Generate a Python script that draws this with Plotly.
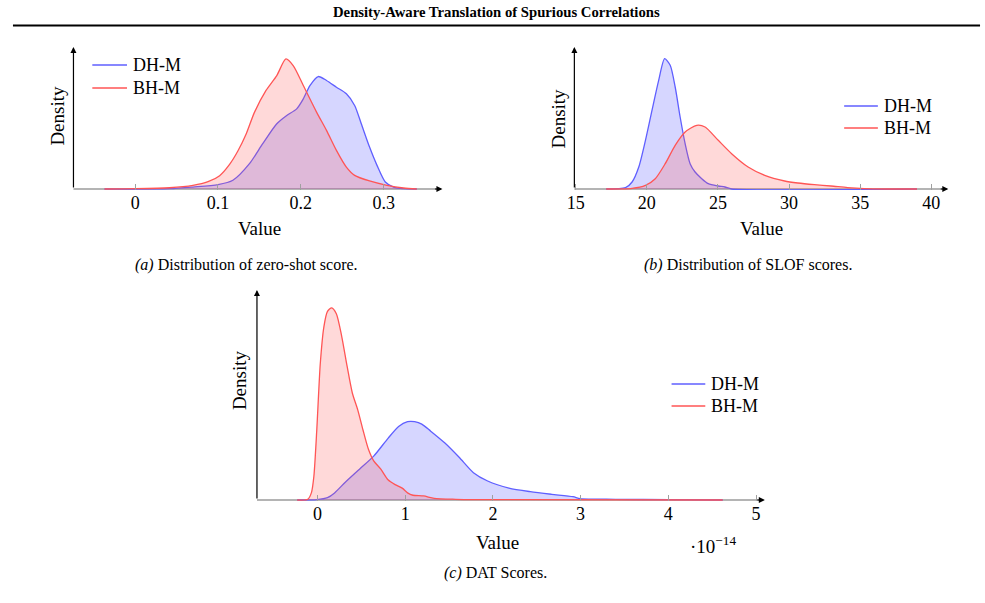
import plotly.graph_objects as go

# ---------------- data ----------------
SERIES = ["DH-M", "BH-M"]

# (a) zero-shot score
a_dh_x = [-0.037, 0.0415, 0.0698, 0.100, 0.118, 0.138, 0.154, 0.171, 0.183, 0.195, 0.203, 0.211,
          0.221, 0.231, 0.243, 0.255, 0.265, 0.273, 0.283, 0.292, 0.302, 0.312, 0.324, 0.340]
a_dh_y = [0.0, 0.02, 0.14, 0.31, 0.62, 1.80, 3.22, 4.64, 5.23, 5.70, 6.41, 7.36,
          8.00, 7.72, 7.24, 6.77, 5.94, 4.64, 2.98, 1.68, 0.50, 0.14, 0.02, 0.0]
a_bh_x = [-0.037, 0.0, 0.0415, 0.0698, 0.088, 0.102, 0.114, 0.124, 0.134, 0.144, 0.158, 0.171,
          0.182, 0.191, 0.203, 0.219, 0.231, 0.243, 0.255, 0.265, 0.283, 0.304, 0.324, 0.340]
a_bh_y = [0.0, 0.02, 0.09, 0.26, 0.52, 0.95, 1.75, 2.70, 3.91, 5.45, 7.01, 8.07,
          9.25, 8.76, 7.36, 5.47, 4.17, 2.75, 1.56, 0.97, 0.57, 0.26, 0.07, 0.0]

# (b) SLOF scores
b_dh_x = [17.14, 18.50, 18.96, 19.43, 19.90, 20.36, 20.83, 21.25, 21.64, 21.99, 22.34, 22.69,
          23.04, 23.39, 23.86, 24.32, 25.02, 25.49, 25.96, 39.0]
b_dh_y = [0.0, 0.004, 0.021, 0.066, 0.146, 0.236, 0.326, 0.391, 0.371, 0.306, 0.216, 0.136,
          0.076, 0.051, 0.031, 0.016, 0.009, 0.006, 0.0, 0.0]
b_bh_x = [17.14, 18.96, 19.90, 20.59, 21.29, 21.99, 22.69, 23.51, 24.09, 25.02, 25.96, 27.12,
          28.29, 29.69, 30.62, 31.78, 32.95, 34.11, 35.28, 36.91, 39.0]
b_bh_y = [0.0, 0.002, 0.011, 0.031, 0.076, 0.131, 0.171, 0.191, 0.186, 0.146, 0.106, 0.066,
          0.041, 0.024, 0.018, 0.013, 0.009, 0.004, 0.001, 0.0, 0.0]

# (c) DAT scores (values in units of 10^-14)
c_dh_x = [-0.231, -0.008, 0.114, 0.195, 0.317, 0.479, 0.641, 0.804, 0.925, 1.027, 1.108, 1.189,
          1.291, 1.453, 1.615, 1.778, 1.940, 2.183, 2.427, 2.670, 2.914, 2.995, 3.401, 4.010, 4.62]
c_dh_y = [0.0, 0.003, 0.02, 0.06, 0.15, 0.26, 0.37, 0.52, 0.62, 0.66, 0.66, 0.64,
          0.58, 0.48, 0.36, 0.23, 0.16, 0.10, 0.07, 0.048, 0.028, 0.011, 0.006, 0.003, 0.0]
c_bh_x = [-0.231, -0.110, -0.069, -0.041, -0.008, 0.032, 0.073, 0.114, 0.162, 0.215, 0.276, 0.337,
          0.398, 0.459, 0.519, 0.580, 0.641, 0.722, 0.804, 0.885, 0.966, 1.027, 1.088, 1.209,
          1.331, 1.575, 1.778, 4.62]
c_bh_y = [0.0, 0.006, 0.062, 0.20, 0.59, 1.15, 1.46, 1.59, 1.62, 1.57, 1.38, 1.13,
          0.90, 0.76, 0.59, 0.43, 0.33, 0.26, 0.17, 0.13, 0.10, 0.06, 0.04, 0.034,
          0.014, 0.006, 0.003, 0.0]
C_EXPONENT = -14

a_ticks = [0, 0.1, 0.2, 0.3]
b_ticks = [15, 20, 25, 30, 35, 40]
c_ticks = [0, 1, 2, 3, 4, 5]

TITLE = "Density-Aware Translation of Spurious Correlations"
CAPTIONS = ["<i>(a)</i> Distribution of zero-shot score.",
            "<i>(b)</i> Distribution of SLOF scores.",
            "<i>(c)</i> DAT Scores."]
XLABEL = "Value"
YLABEL = "Density"

# ---------------- styling / layout ----------------
W, H = 985, 603
SERIF = "Liberation Serif"
LINE_COL = {"DH-M": "rgb(95,95,255)", "BH-M": "rgb(255,85,85)"}
FILL_COL = {"DH-M": "rgba(90,90,255,0.25)", "BH-M": "rgba(255,80,80,0.22)"}

# pixel boxes: (left, right, top, bottom), value ranges
panels = [
    dict(px=(66, 438, 47, 189), xr=(-0.0745, 0.371), ytop=10.1,
         data={"DH-M": (a_dh_x, a_dh_y), "BH-M": (a_bh_x, a_bh_y)}, ticks=a_ticks,
         ticktext=["0", "0.1", "0.2", "0.3"],
         legend=dict(x0=85, x1=120, rows=(65, 88)), xlab=(254, 229), ylab=(49, 116),
         cap=(240, 265)),
    dict(px=(571, 948, 47, 189), xr=(14.9, 41.2), ytop=0.426,
         data={"DH-M": (b_dh_x, b_dh_y), "BH-M": (b_bh_x, b_bh_y)}, ticks=b_ticks,
         ticktext=[str(t) for t in b_ticks],
         legend=dict(x0=843, x1=877, rows=(106, 128)), xlab=(760, 229), ylab=(555, 118),
         cap=(746, 265)),
    dict(px=(251, 763, 290, 500), xr=(-0.69, 5.10), ytop=1.77,
         data={"DH-M": (c_dh_x, c_dh_y), "BH-M": (c_bh_x, c_bh_y)}, ticks=c_ticks,
         ticktext=[str(t) for t in c_ticks],
         legend=dict(x0=669, x1=703, rows=(384, 406)), xlab=(494, 542), ylab=(233, 380),
         cap=(491, 573)),
]

fig = go.Figure()
shapes, annotations = [], []


def px2x(p):
    return p / W


def px2y(p):
    return 1 - p / H


def text_ann(x, y, text, size, angle=0, xanchor="center"):
    return dict(x=px2x(x), y=px2y(y), xref="paper", yref="paper", text=text,
                showarrow=False, xanchor=xanchor, yanchor="middle", textangle=angle,
                font=dict(family=SERIF, size=size, color="black"))


for i, pnl in enumerate(panels, start=1):
    L, R, T, B = pnl["px"]
    sfx = "" if i == 1 else str(i)
    xa, ya = "x" + sfx, "y" + sfx
    height_px = B - T
    ypp = pnl["ytop"] / height_px  # data per pixel
    yr = (-1.0 * ypp, pnl["ytop"])
    fig.update_layout(**{
        "xaxis" + sfx: dict(domain=[px2x(L), px2x(R)], range=list(pnl["xr"]), anchor=ya,
                            showgrid=False, zeroline=False, showline=False,
                            ticks="inside", ticklen=6, tickwidth=1, tickcolor="#a0a0a0",
                            tickvals=pnl["ticks"], ticktext=pnl["ticktext"],
                            tickfont=dict(family=SERIF, size=18, color="black")),
        "yaxis" + sfx: dict(domain=[px2y(B + 1), px2y(T)], range=list(yr), anchor=xa,
                            showgrid=False, zeroline=False, showline=False,
                            showticklabels=False, ticks=""),
    })
    for name in SERIES:
        xs, ys = pnl["data"][name]
        fig.add_trace(go.Scatter(x=xs, y=ys, mode="lines", line_shape="spline", name=name,
                                 line=dict(color=LINE_COL[name], width=1.3, smoothing=0.7),
                                 fill="tozeroy", fillcolor=FILL_COL[name],
                                 showlegend=False, hoverinfo="skip",
                                 xaxis=xa, yaxis=ya))
    # legend (line sample + name)
    lgd = pnl["legend"]
    for name, row in zip(SERIES, lgd["rows"]):
        shapes.append(dict(type="line", xref="paper", yref="paper",
                           x0=px2x(lgd["x0"]), x1=px2x(lgd["x1"]),
                           y0=px2y(row), y1=px2y(row),
                           line=dict(color=LINE_COL[name], width=1.3)))
        annotations.append(text_ann(lgd["x1"] + 4, row, name, 18, xanchor="left"))
    # x axis line (gray) + black arrowhead
    shapes.append(dict(type="line", xref="paper", yref="paper",
                       x0=px2x(L), x1=px2x(R - 3), y0=px2y(B), y1=px2y(B),
                       line=dict(color="#6a6a6a", width=1.2), layer="below"))
    annotations.append(dict(x=px2x(R), y=px2y(B), xref="paper", yref="paper", text="",
                            showarrow=True, ax=-9, ay=0, arrowhead=2, arrowsize=1,
                            arrowwidth=1.2, arrowcolor="black", standoff=0))
    # y axis line (black) with arrow
    annotations.append(dict(x=px2x(L), y=px2y(T), xref="paper", yref="paper", text="",
                            showarrow=True, ax=0, ay=height_px, arrowhead=2, arrowsize=1,
                            arrowwidth=1.2, arrowcolor="black", standoff=0))
    # axis labels and caption
    annotations.append(text_ann(pnl["xlab"][0], pnl["xlab"][1], XLABEL, 19))
    annotations.append(text_ann(pnl["ylab"][0], pnl["ylab"][1], YLABEL, 19, angle=-90))
    annotations.append(text_ann(pnl["cap"][0], pnl["cap"][1], CAPTIONS[i - 1], 16))

# exponent label for (c)
annotations.append(text_ann(711, 545, "·10<sup>\u2212%d</sup>" % abs(C_EXPONENT), 19))
# page header
annotations.append(text_ann(492, 12, "<b>%s</b>" % TITLE, 14.7))
shapes.append(dict(type="line", xref="paper", yref="paper", x0=px2x(5), x1=px2x(980),
                   y0=px2y(25.5), y1=px2y(25.5), line=dict(color="black", width=2)))

fig.update_layout(width=W, height=H, margin=dict(l=0, r=0, t=0, b=0),
                  paper_bgcolor="white", plot_bgcolor="white", showlegend=False,
                  shapes=shapes, annotations=annotations, hovermode=False)

fig.write_html("out.html")
